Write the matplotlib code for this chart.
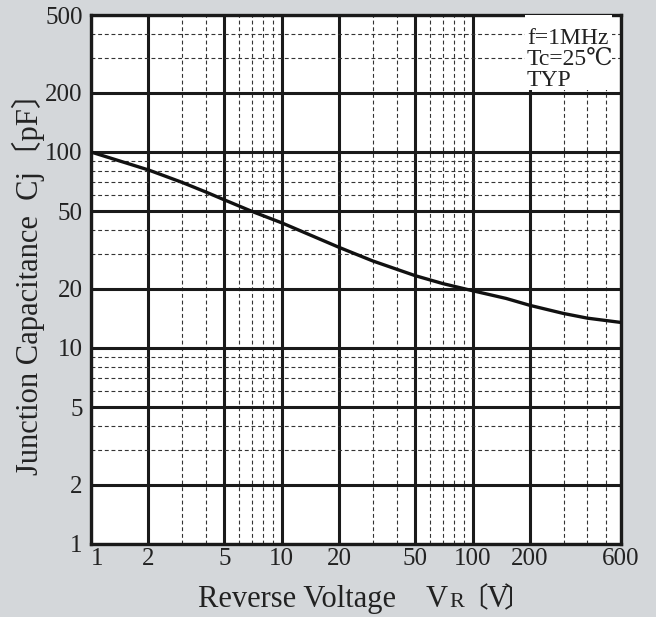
import matplotlib
matplotlib.use("Agg")
import matplotlib.pyplot as plt
from matplotlib.ticker import FixedLocator, NullFormatter
from matplotlib.patches import Rectangle

# ---- data ----
voltage = [1, 2, 3, 4, 5, 7, 10, 20, 30, 50, 70, 100, 150, 200, 300, 400, 600]
capacitance = [100, 81, 70, 62.5, 57, 49.7, 43.5, 32.6, 27.8, 23.4, 21.3, 19.6,
               17.9, 16.5, 15.0, 14.2, 13.5]

x_major = [1, 2, 5, 10, 20, 50, 100, 200, 600]
x_major_labels = ["1", "2", "5", "10", "20", "50", "100", "200", "600"]
x_minor = [3, 4, 6, 7, 8, 9, 30, 40, 60, 70, 80, 90, 300, 400, 500]
y_major = [1, 2, 5, 10, 20, 50, 100, 200, 500]
y_major_labels = ["1", "2", "5", "10", "20", "50", "100", "200", "500"]
y_minor = [3, 4, 6, 7, 8, 9, 30, 40, 60, 70, 80, 90, 300, 400]

xlabel_main = "Reverse Voltage    V"
xlabel_sub = "R"
xlabel_unit = "V"
ylabel = "Junction Capacitance  Cj〔pF〕"
bracket_l, bracket_r = "〔", "〕"
note = "f=1MHz\nTc=25℃\nTYP"

FONT = ["Liberation Serif", "DejaVu Serif", "Noto Sans CJK JP"]
CJK = ["Noto Sans CJK JP"]
plt.rcParams["font.family"] = FONT
TXT = "#222222"

BG = "#d4d7da"
W, H = 656, 617
fig = plt.figure(figsize=(W / 100, H / 100), dpi=100, facecolor=BG)
ax = fig.add_axes([91 / W, 1 - 544 / H, (621 - 91) / W, (544 - 15) / H])
ax.set_facecolor("white")
ax.set_xscale("log")
ax.set_yscale("log")
ax.set_xlim(1, 600)
ax.set_ylim(1, 500)

ax.xaxis.set_major_locator(FixedLocator(x_major))
ax.xaxis.set_minor_locator(FixedLocator(x_minor))
ax.yaxis.set_major_locator(FixedLocator(y_major))
ax.yaxis.set_minor_locator(FixedLocator(y_minor))
ax.set_xticklabels(x_major_labels)
ax.set_yticklabels(y_major_labels)
ax.xaxis.set_minor_formatter(NullFormatter())
ax.yaxis.set_minor_formatter(NullFormatter())
ax.tick_params(which="both", length=0, labelsize=18, colors=TXT)
ax.tick_params(axis="x", pad=3)
ax.tick_params(axis="y", pad=6)
ax.get_xticklabels()[0].set_horizontalalignment("left")

ax.grid(which="major", color="#1a1a1a", linewidth=2.2, linestyle="-")
ax.grid(which="minor", color="#333333", linewidth=0.8, linestyle=(0, (3.5, 2.5)))
ax.set_axisbelow(True)
for s in ax.spines.values():
    s.set_linewidth(2.4)
    s.set_color("#1a1a1a")

ax.plot(voltage, capacitance, color="#111111", linewidth=2.4, zorder=3,
        solid_capstyle="butt")

# note box
ax.add_patch(Rectangle((0.819, 0.858), 0.164, 0.142, transform=ax.transAxes,
                       facecolor="white", edgecolor="none", zorder=4))
ax.text(0.8225, 0.976, note, transform=ax.transAxes, ha="left", va="top",
        fontsize=17, linespacing=1.0, color=TXT, zorder=5)

# x label (chained pieces on a common baseline)
XBASE = 1 - 607 / H
t1 = fig.text(198 / W, XBASE, xlabel_main, fontsize=22, color=TXT,
              ha="left", va="baseline")
def chain_x(prev, s, size, dx, fam=None):
    kw = dict(family=fam) if fam else {}
    return ax.annotate(s, xy=(1, XBASE), xycoords=(prev, "figure fraction"),
                       xytext=(dx, 0), textcoords="offset points",
                       fontsize=size, color=TXT, ha="left", va="baseline",
                       annotation_clip=False, **kw)
t2 = chain_x(t1, xlabel_sub, 16, 0.8)
t3 = chain_x(t2, bracket_l, 20, -3.0, CJK)
t4 = chain_x(t3, xlabel_unit, 22, -1.0)
t5 = chain_x(t4, bracket_r, 20, -3.0, CJK)

# y label (single rotated text, CJK fallback for the brackets)
fig.text(28 / W, 1 - 276 / H, ylabel, fontsize=22, color=TXT,
         rotation=90, ha="center", va="center")

fig.savefig("out.png", dpi=100, facecolor=BG)
